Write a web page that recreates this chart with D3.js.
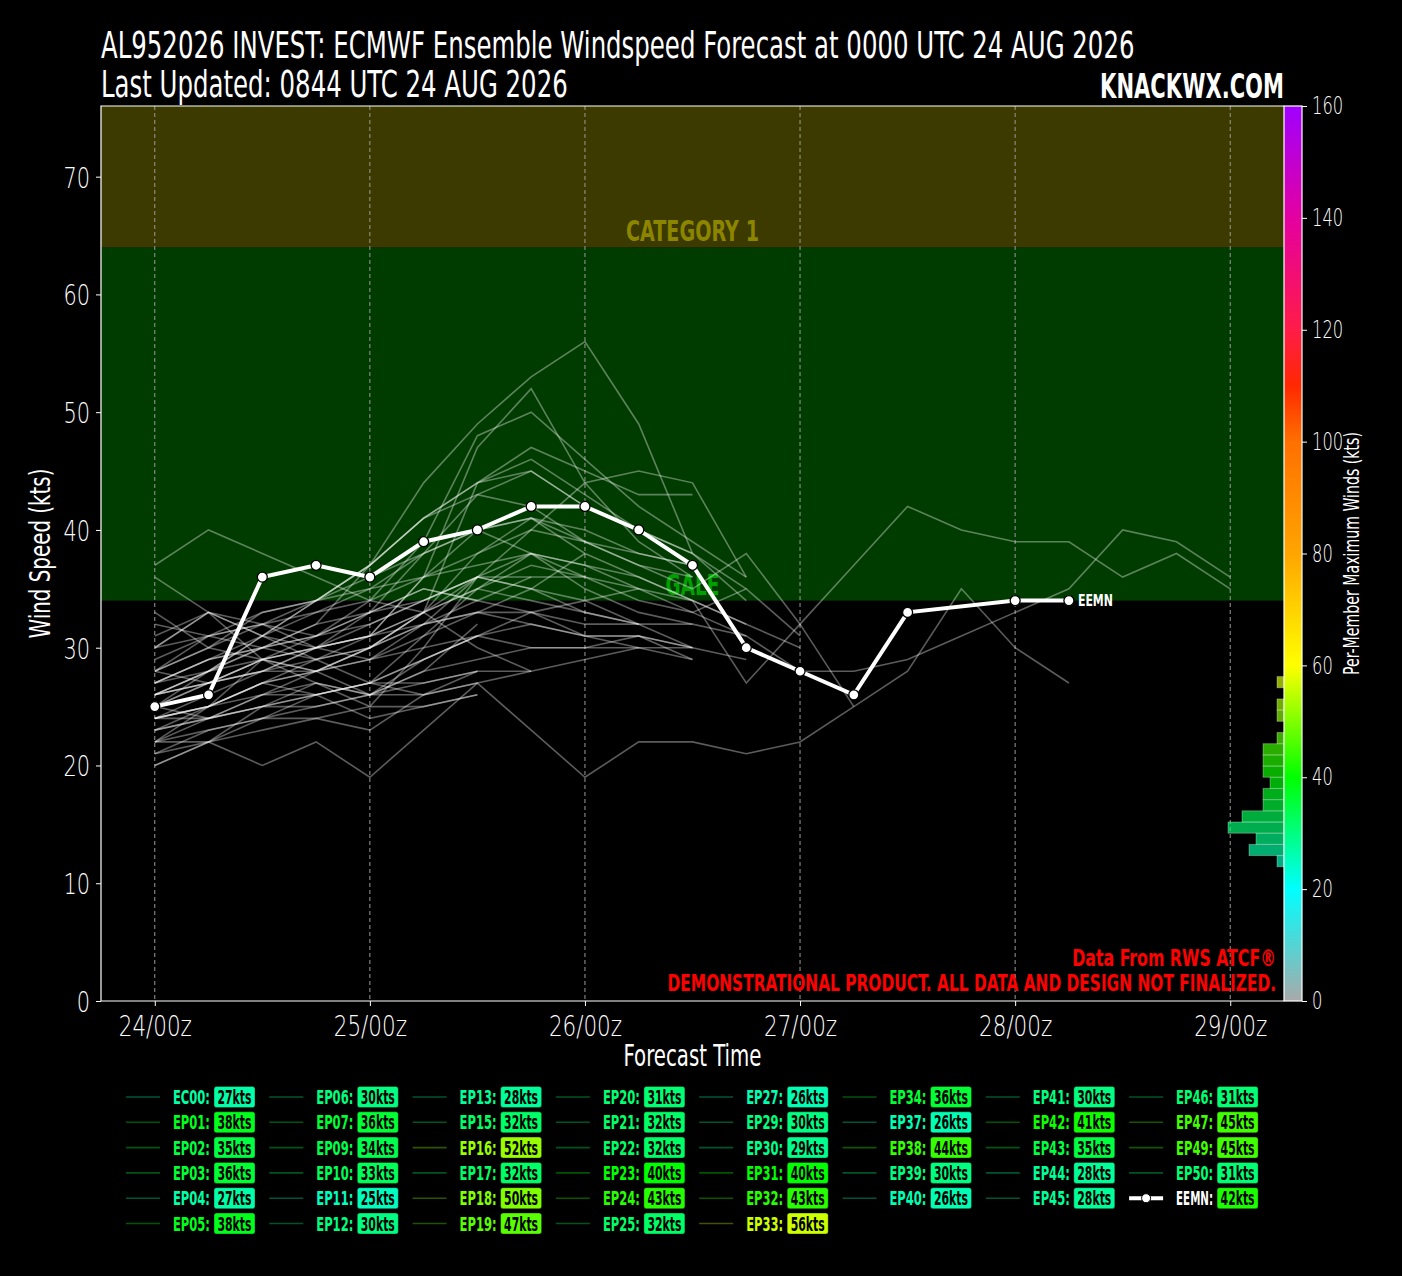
<!DOCTYPE html>
<meta charset="utf-8">
<style>
body { margin: 0; background: #000; }
svg { display: block; }
text { font-family: 'Liberation Sans Narrow', 'DejaVu Sans Condensed', 'Roboto Condensed', sans-serif; }
</style>
<body>
<svg width="1402" height="1276"></svg>
<script src="https://d3js.org/d3.v7.min.js"></script>
<script>

// ---- data ----
var title1 = "AL952026 INVEST: ECMWF Ensemble Windspeed Forecast at 0000 UTC 24 AUG 2026",
    title2 = "Last Updated: 0844 UTC 24 AUG 2026";

var dayTicks = [0, 24, 48, 72, 96, 120],
    dayLabels = ["24/00z", "25/00z", "26/00z", "27/00z", "28/00z", "29/00z"];

// ensemble mean (hours, kts)
var meanHours = [0, 6, 12, 18, 24, 30, 36, 42, 48, 54, 60, 66, 72, 78, 84, 96, 102],
    meanWinds = [25, 26, 36, 37, 36, 39, 40, 42, 42, 40, 37, 30, 28, 26, 33, 34, 34];

// member tracks, 6-hourly from 24/00z
var tracks = [
  [25,24,26,27,26,27,28],
  [23,25,27,26,24,25,26],
  [21,23,24,24,23,26,28],
  [22,22,23,24,25,25,26],
  [20,22,25,27,26,29,31],
  [22,25,29,28,26,28,32],
  [36,33,29,27,25,30,36],
  [28,31,32,30,29,32,34],
  [24,24,25,26,27,26,27],
  [23,24,25,25,26,26,27,28],
  [24,25,26,26,27,27,28,28],
  [27,29,30,31,33,35,34,36],
  [27,29,31,33,35,38,40,38,36],
  [25,27,28,29,30,32,33,35,38],
  [22,23,24,25,26,28,29,30,30,30],
  [26,27,28,28,29,31,33,33,32,32],
  [32,31,30,29,30,33,36,36,36,35],
  [30,33,32,31,32,34,36,35,34,32],
  [25,28,31,34,37,41,44,45,42,40],
  [24,26,28,30,33,35,34,33,31,30,30],
  [22,24,26,28,30,32,36,38,35,33,32],
  [25,27,29,30,31,32,33,32,31,31,30],
  [24,25,27,28,29,30,31,30,30,31,29],
  [33,30,29,28,30,33,44,47,45,43,43],
  [24,25,27,29,31,36,47,52,44,39,36],
  [24,25,27,28,30,33,38,41,39,37,36],
  [31,33,31,30,31,36,40,41,40,38,37],
  [27,29,30,31,33,38,43,45,42,40,38],
  [23,24,25,26,27,29,31,32,31,31,30],
  [28,30,32,34,37,41,43,42,39,38,37],
  [26,27,28,30,31,33,30,28,29,30,29],
  [27,28,29,30,32,34,36,40,44,45,44,36],
  [20,22,24,26,27,29,31,33,34,35,34,32],
  [26,28,30,32,33,34,36,35,33,32,30,29],
  [29,31,32,33,34,36,37,38,37,35,33,31],
  [26,28,31,34,37,41,44,46,43,40,38,35],
  [26,28,30,32,37,44,49,53,56,49,38,34],
  [28,27,29,31,34,39,48,50,46,42,39,36],
  [30,33,31,29,27,31,35,38,37,36,34,32,30],
  [37,40,38,36,34,33,35,37,36,34,33,35,31],
  [30,31,33,34,35,36,38,40,39,37,35,38,32,25],
  [21,22,20,22,19,23,27,23,19,22,22,21,22,25,28,35,30,27],
  [28,30,33,34,36,38,40,41,38,36,34,27,32,37,42,40,39,39,36,38,35],
  [26,27,29,30,31,33,35,34,33,32,32,31,28,28,29,31,33,35,40,39,36]
];

// legend: member names and per-member maximum winds
var members = ["EC00","EP01","EP02","EP03","EP04","EP05","EP06","EP07","EP09","EP10","EP11",
  "EP12","EP13","EP15","EP16","EP17","EP18","EP19","EP20","EP21","EP22","EP23","EP24","EP25",
  "EP27","EP29","EP30","EP31","EP32","EP33","EP34","EP37","EP38","EP39","EP40","EP41","EP42",
  "EP43","EP44","EP45","EP46","EP47","EP49","EP50"];
var memberMax = [27,38,35,36,27,38,30,36,34,33,25,30,28,32,52,32,50,47,31,32,32,40,43,32,
  26,30,29,40,43,56,36,26,44,30,26,30,41,35,28,28,31,45,45,31];
var meanMax = 42;

var bands = [
  {name: "GALE", lo: 34, hi: 64, fill: "#003c00", color: "#00a000", w: 54},
  {name: "CATEGORY 1", lo: 64, hi: 200, fill: "#3d3a00", color: "#8c8500", w: 133}
];

var cbStops = [0, 20, 40, 60, 80, 100, 110, 120, 140, 160],
    cbColors = ["#a9a9a9", "#00ffff", "#00ff00", "#ffff00", "#ffa500", "#ff7000",
                "#ff2800", "#ff1c48", "#e400a0", "#a000ff"];

// squeeze a text to a given width with a horizontal scale (stand-in for a condensed face)
function fit(sel, w) {
  sel.each(function(d, i) {
    var t = d3.select(this),
        tw = typeof w === "function" ? w(d, i) : w,
        len = this.getComputedTextLength(),
        tx = +t.attr("x") || 0, ty = +t.attr("y") || 0,
        pre = t.attr("transform") || "";
    t.attr("x", 0).attr("y", 0)
      .attr("transform", `${pre} translate(${tx},${ty}) scale(${tw / len},1)`);
  });
}
function squeeze(sel, f) {
  sel.each(function() {
    var len = this.getComputedTextLength();
    d3.select(this).attr("textLength", len * f).attr("lengthAdjust", "spacingAndGlyphs");
  });
}

// ---- layout ----
var svg = d3.select("svg");
var L = 101, R = 1284, T = 106, B = 1001;
var light = "'DejaVu Sans', sans-serif";

var x = d3.scaleLinear().domain([-6, 126]).range([L, R]);
var y = d3.scaleLinear().domain([0, 76]).range([B, T]);
var cy = d3.scaleLinear().domain([0, 160]).range([B, T]);
var cmap = d3.scaleLinear().domain(cbStops).range(cbColors).interpolate(d3.interpolateRgb);

svg.append("rect").attr("width", 1402).attr("height", 1276).attr("fill", "#000");

svg.append("clipPath").attr("id", "plot")
  .append("rect").attr("x", L).attr("y", T).attr("width", R - L).attr("height", B - T);

var plot = svg.append("g").attr("clip-path", "url(#plot)");

// intensity bands
plot.selectAll(".band").data(bands).enter().append("rect")
  .attr("x", L).attr("width", R - L)
  .attr("y", d => y(Math.min(d.hi, 76)))
  .attr("height", d => y(d.lo) - y(Math.min(d.hi, 76)))
  .attr("fill", d => d.fill);

plot.selectAll(".bandlabel").data(bands).enter().append("text")
  .attr("x", (L + R) / 2).attr("y", d => y(d.lo) - 6)
  .attr("text-anchor", "middle")
  .attr("font-size", 29).attr("font-weight", "bold")
  .attr("fill", d => d.color)
  .text(d => d.name)
  .call(fit, d => d.w);

// day gridlines
plot.selectAll(".grid").data(dayTicks).enter().append("line")
  .attr("x1", d => x(d)).attr("x2", d => x(d))
  .attr("y1", T).attr("y2", B)
  .attr("stroke", "#9a9a9a").attr("stroke-width", 1).attr("stroke-dasharray", "4,3");

// per-member max histogram against colourbar
var bins = d3.bin().domain([0, 160]).thresholds(d3.range(0, 161, 2))(memberMax.concat([meanMax]));
var hx = d3.scaleLinear().domain([0, 10]).range([R, R - 70]);
plot.selectAll(".hist").data(bins.filter(b => b.length)).enter().append("rect")
  .attr("x", d => hx(d.length)).attr("width", d => R - hx(d.length))
  .attr("y", d => cy(d.x1)).attr("height", d => cy(d.x0) - cy(d.x1))
  .attr("fill", d => cmap((d.x0 + d.x1) / 2)).attr("fill-opacity", 0.68)
  .attr("stroke", "rgba(255,255,255,0.3)").attr("stroke-width", 1);

// member spaghetti
var line = d3.line().x((d, i) => x(i * 6)).y(d => y(d));
plot.selectAll(".member").data(tracks).enter().append("path")
  .attr("d", line)
  .attr("fill", "none").attr("stroke", "#fff").attr("stroke-opacity", 0.36).attr("stroke-width", 1.6);

// ensemble mean
var mean = meanHours.map((h, i) => [h, meanWinds[i]]);
plot.append("path")
  .attr("d", d3.line().x(d => x(d[0])).y(d => y(d[1]))(mean))
  .attr("fill", "none").attr("stroke", "#fff").attr("stroke-width", 4);
plot.selectAll(".mpt").data(mean).enter().append("circle")
  .attr("cx", d => x(d[0])).attr("cy", d => y(d[1])).attr("r", 5)
  .attr("fill", "#fff").attr("stroke", "#000").attr("stroke-width", 1.3);
var last = mean[mean.length - 1];
plot.append("text")
  .attr("x", x(last[0]) + 9).attr("y", y(last[1]) + 5)
  .attr("font-size", 15).attr("font-weight", "bold").attr("fill", "#fff")
  .text("EEMN").call(fit, 35);

// disclaimer
svg.append("text").attr("x", 1276).attr("y", 966).attr("text-anchor", "end")
  .attr("font-size", 23).attr("font-weight", "bold").attr("fill", "#ff0000")
  .text("Data From RWS ATCF\u00ae").call(fit, 204);
svg.append("text").attr("x", 1276).attr("y", 991).attr("text-anchor", "end")
  .attr("font-size", 23).attr("font-weight", "bold").attr("fill", "#ff0000")
  .text("DEMONSTRATIONAL PRODUCT. ALL DATA AND DESIGN NOT FINALIZED.").call(fit, 609);

// axes
var yAxis = svg.append("g").attr("transform", `translate(${L},0)`)
  .call(d3.axisLeft(y).tickValues(d3.range(0, 71, 10)).tickSize(5).tickPadding(6));
var xAxis = svg.append("g").attr("transform", `translate(0,${B})`)
  .call(d3.axisBottom(x).tickValues(dayTicks).tickFormat((d, i) => dayLabels[i]).tickSize(5).tickPadding(5));
[yAxis, xAxis].forEach(a => {
  a.select(".domain").remove();
  a.selectAll("line").attr("stroke", "#fff");
  a.selectAll("text").attr("fill", "#fff").attr("font-size", 29).attr("font-weight", 200)
    .style("font-family", light);
});
xAxis.selectAll("text").attr("dy", "0.85em");
yAxis.selectAll("text").attr("dy", "0.36em");
squeeze(yAxis.selectAll("text"), 0.72);
squeeze(xAxis.selectAll("text"), 0.74);

svg.append("path")
  .attr("d", `M${R},${T}H${L}V${B}H${R}`)
  .attr("fill", "none").attr("stroke", "#fff").attr("stroke-width", 1.2);

svg.append("text").attr("transform", `translate(50,${(T + B) / 2}) rotate(-90)`)
  .attr("text-anchor", "middle").attr("font-size", 29).attr("fill", "#fff")
  .text("Wind Speed (kts)").call(fit, 170);
svg.append("text").attr("x", (L + R) / 2).attr("y", 1066)
  .attr("text-anchor", "middle").attr("font-size", 31).attr("fill", "#fff")
  .text("Forecast Time").call(fit, 138);

// colourbar
var grad = svg.append("defs").append("linearGradient").attr("id", "cb")
  .attr("x1", 0).attr("x2", 0).attr("y1", 1).attr("y2", 0);
grad.selectAll("stop").data(cbStops).enter().append("stop")
  .attr("offset", d => d / 160).attr("stop-color", (d, i) => cbColors[i]);
svg.append("rect").attr("x", R).attr("y", T).attr("width", 18).attr("height", B - T)
  .attr("fill", "url(#cb)").attr("stroke", "#fff").attr("stroke-width", 1.2);
var cAxis = svg.append("g").attr("transform", `translate(${R + 18},0)`)
  .call(d3.axisRight(cy).tickValues(d3.range(0, 161, 20)).tickSize(5).tickPadding(5));
cAxis.select(".domain").remove();
cAxis.selectAll("line").attr("stroke", "#fff");
cAxis.selectAll("text").attr("fill", "#fff").attr("font-size", 24).attr("font-weight", 200)
  .style("font-family", light);
squeeze(cAxis.selectAll("text"), 0.68);
svg.append("text").attr("transform", `translate(1359,${(T + B) / 2}) rotate(-90)`)
  .attr("text-anchor", "middle").attr("font-size", 21).attr("fill", "#fff")
  .text("Per-Member Maximum Winds (kts)").call(fit, 243);

// titles
svg.append("text").attr("x", L).attr("y", 58).attr("font-size", 37).attr("fill", "#fff")
  .text(title1).call(fit, 1034);
svg.append("text").attr("x", L).attr("y", 97).attr("font-size", 37).attr("fill", "#fff")
  .text(title2).call(fit, 467);
svg.append("text").attr("x", R).attr("y", 98).attr("text-anchor", "end")
  .attr("font-size", 33).attr("font-weight", "bold").attr("fill", "#fff")
  .text("KNACKWX.COM").call(fit, 184);

// legend: column-major, 8 columns
var entries = members.map((m, i) => ({name: m, max: memberMax[i], mean: false}))
  .concat([{name: "EEMN", max: meanMax, mean: true}]);
var ncol = 8, base = Math.floor(entries.length / ncol), extra = entries.length % ncol;
var k = 0;
for (var c = 0; c < ncol; c++) {
  var nrow = base + (c < extra ? 1 : 0);
  for (var r = 0; r < nrow; r++, k++) {
    entries[k].col = c; entries[k].row = r;
  }
}
var lg = svg.append("g").selectAll("g").data(entries).enter().append("g")
  .attr("transform", d => `translate(${126 + d.col * 143.3},${1097 + d.row * 25.3})`);
lg.filter(d => !d.mean).append("line")
  .attr("x1", 0).attr("x2", 34).attr("stroke", d => cmap(d.max)).attr("stroke-opacity", 0.33)
  .attr("stroke-width", 1.6);
var ml = lg.filter(d => d.mean);
ml.append("line").attr("x1", 0).attr("x2", 34).attr("stroke", "#fff").attr("stroke-width", 4);
ml.append("circle").attr("cx", 17).attr("r", 4.5).attr("fill", "#fff").attr("stroke", "#000");
lg.append("text").attr("x", 47).attr("y", 7)
  .attr("font-size", 20).attr("font-weight", "bold")
  .attr("fill", d => d.mean ? "#fff" : cmap(d.max))
  .text(d => d.name + ":").call(fit, 37);
lg.append("rect").attr("x", 88).attr("y", -10.5).attr("width", 41).attr("height", 21).attr("rx", 2.5)
  .attr("fill", d => cmap(d.max)).attr("stroke", "rgba(0,0,0,0.35)");
lg.append("text").attr("x", 108.5).attr("y", 7).attr("text-anchor", "middle")
  .attr("font-size", 20).attr("font-weight", "bold").attr("fill", "#000")
  .text(d => d.max + "kts").call(fit, 34);

</script>
</body>
